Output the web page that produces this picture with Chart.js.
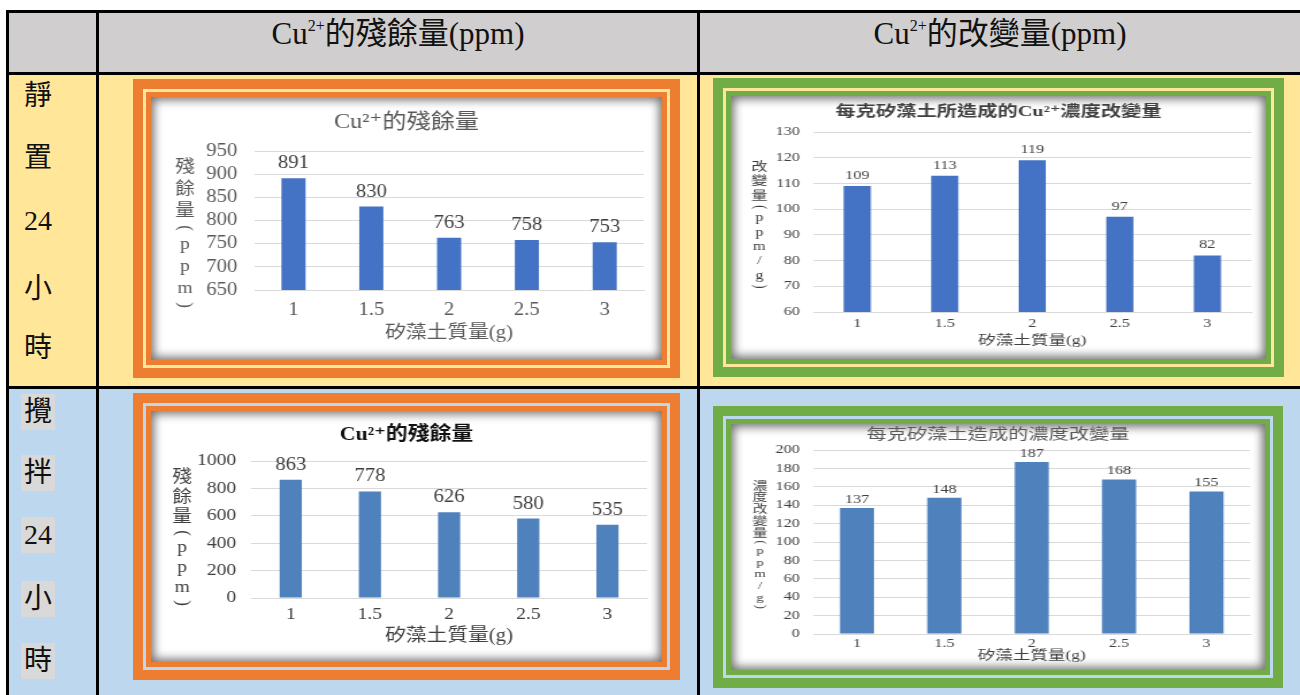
<!DOCTYPE html>
<html lang="zh-Hant">
<head>
<meta charset="utf-8">
<title>矽藻土對 Cu2+ 的吸附</title>
<script src="https://cdn.jsdelivr.net/npm/chart.js@4.4.1/dist/chart.umd.min.js"></script>
<style>
  body { margin: 0; width: 1300px; height: 695px; position: relative; overflow: hidden; background: #fff;
         font-family: 'Liberation Serif', 'Noto Sans CJK TC', serif; color: #111; }
  .abs { position: absolute; }
  .line { position: absolute; background: #000; }
  .head { position: absolute; top: 14px; height: 40px; line-height: 40px; font-size: 31px; text-align: center; }
  .head sup { font-size: 16px; vertical-align: 13px; line-height: 0; }
  .lab { position: absolute; left: 8px; width: 60px; height: 36px; line-height: 36px; font-size: 28px; text-align: center; }
  .lab span { display: inline-block; padding: 0 3px; }
  .hl span { background: #d9d9d9; }
  .frame { position: absolute; }
  .frame .light { position: absolute; left: 10px; top: 10px; right: 10px; bottom: 10px; }
  .frame .thin { position: absolute; left: 13px; top: 13px; right: 13px; bottom: 13px; }
  .frame .panel { position: absolute; left: 18px; top: 18px; right: 18px; bottom: 18px; background: #fff;
                  box-shadow: inset 0 0 10px 3px rgba(0,0,0,0.55); }
  .panel canvas { position: absolute; left: 0; top: 0; }
</style>
</head>
<body>
  <!-- cell backgrounds -->
  <div class="abs" style="left:7px;top:11px;width:1293px;height:62px;background:#d0cece"></div>
  <div class="abs" style="left:7px;top:73px;width:1293px;height:315px;background:#ffe699"></div>
  <div class="abs" style="left:7px;top:388px;width:1293px;height:307px;background:#bdd7ee"></div>

  <!-- table rules -->
  <div class="line" style="left:6px;top:10px;width:1294px;height:3px"></div>
  <div class="line" style="left:6px;top:72px;width:1294px;height:3px"></div>
  <div class="line" style="left:6px;top:386px;width:1294px;height:3px"></div>
  <div class="line" style="left:6px;top:10px;width:3px;height:685px"></div>
  <div class="line" style="left:96px;top:10px;width:3px;height:685px"></div>
  <div class="line" style="left:697px;top:10px;width:3px;height:685px"></div>

  <div class="head" style="left:99px;width:598px">Cu<sup>2+</sup>的殘餘量(ppm)</div>
  <div class="head" style="left:700px;width:600px">Cu<sup>2+</sup>的改變量(ppm)</div>

  <div class="lab" style="top:78px"><span>靜</span></div>
  <div class="lab" style="top:140px"><span>置</span></div>
  <div class="lab" style="top:203px"><span>24</span></div>
  <div class="lab" style="top:271px"><span>小</span></div>
  <div class="lab" style="top:330px"><span>時</span></div>

  <div class="lab hl" style="top:394px"><span>攪</span></div>
  <div class="lab hl" style="top:455px"><span>拌</span></div>
  <div class="lab hl" style="top:517px"><span>24</span></div>
  <div class="lab hl" style="top:581px"><span>小</span></div>
  <div class="lab hl" style="top:643px"><span>時</span></div>

  <div class="frame" style="left:133px;top:79px;width:547px;height:299px;background:#ed7d31">
    <div class="light" style="background:#ffe699"></div><div class="thin" style="background:#ed7d31"></div>
    <div class="panel"><canvas id="c1" width="444" height="263" style="width:511px;height:263px"></canvas></div>
  </div>
  <div class="frame" style="left:713px;top:78px;width:571px;height:299px;background:#70ad47">
    <div class="light" style="background:#ffe699"></div><div class="thin" style="background:#70ad47"></div>
    <div class="panel"><canvas id="c2" width="396" height="263" style="width:535px;height:263px"></canvas></div>
  </div>
  <div class="frame" style="left:133px;top:393px;width:547px;height:287px;background:#ed7d31">
    <div class="light" style="background:#bdd7ee"></div><div class="thin" style="background:#ed7d31"></div>
    <div class="panel"><canvas id="c3" width="444" height="251" style="width:511px;height:251px"></canvas></div>
  </div>
  <div class="frame" style="left:713px;top:406px;width:570px;height:282px;background:#70ad47">
    <div class="light" style="background:#bdd7ee"></div><div class="thin" style="background:#70ad47"></div>
    <div class="panel"><canvas id="c4" width="396" height="246" style="width:534px;height:246px"></canvas></div>
  </div>

<script>
// 矽藻土質量 (g)
const grams = ['1', '1.5', '2', '2.5', '3'];

// 靜置 24 小時
const residualStill = [891, 830, 763, 758, 753];   // Cu2+ 殘餘量 (ppm)
const changeStill = [109, 113, 119, 97, 82];        // 每克改變量 (ppm/g)

// 攪拌 24 小時
const residualStir = [863, 778, 626, 580, 535];
const changeStir = [137, 148, 187, 168, 155];

const FONT = "'Liberation Serif', 'Noto Sans CJK TC', 'DejaVu Serif', serif";

// 數值標籤 (柱子上方)
const barValues = {
  id: 'barValues',
  afterDatasetsDraw(chart, args, o) {
    const ctx = chart.ctx;
    const values = chart.data.datasets[0].data;
    ctx.save();
    ctx.font = `${o.size}px ${FONT}`;
    ctx.fillStyle = o.color;
    ctx.textAlign = 'center';
    ctx.textBaseline = 'alphabetic';
    chart.getDatasetMeta(0).data.forEach((bar, i) => {
      ctx.fillText(String(values[i]), bar.x, bar.y - o.gap);
    });
    ctx.restore();
  }
};

// 直排的 y 軸標題, 括號轉 90 度
const sideTitle = {
  id: 'sideTitle',
  afterDraw(chart, args, o) {
    const ctx = chart.ctx;
    ctx.save();
    ctx.font = `${o.size}px ${FONT}`;
    ctx.fillStyle = o.color;
    ctx.textAlign = 'center';
    ctx.textBaseline = 'middle';
    let y = o.top;
    for (const ch of o.text) {
      const paren = ch === '(' || ch === ')';
      const h = paren ? o.step / 2 : o.step;
      const cy = y + h / 2;
      if (paren) {
        ctx.save();
        ctx.translate(o.x, cy);
        ctx.rotate(Math.PI / 2);
        ctx.fillText(ch, 0, 0);
        ctx.restore();
      } else {
        ctx.fillText(ch, o.x, cy);
      }
      y += h;
    }
    ctx.restore();
  }
};

Chart.register(barValues, sideTitle);

function barChart(id, values, s) {
  return new Chart(document.getElementById(id), {
    type: 'bar',
    data: {
      labels: grams,
      datasets: [{
        data: values,
        backgroundColor: s.bar,
        categoryPercentage: 1,
        barPercentage: s.barPct
      }]
    },
    options: {
      responsive: false,
      animation: false,
      devicePixelRatio: 1,
      layout: { padding: { left: s.pad, right: s.pad, top: 0, bottom: 0 } },
      plugins: {
        legend: { display: false },
        tooltip: { enabled: false },
        title: {
          display: true,
          text: s.title,
          color: s.titleColor,
          font: { family: FONT, size: s.titleSize, weight: s.titleWeight },
          padding: { top: s.titleTop, bottom: s.titleBottom }
        },
        barValues: { size: s.valueSize, color: '#404040', gap: s.valueGap },
        sideTitle: { text: s.yTitle, x: s.sideX, top: s.sideTop, step: s.sideStep, size: s.sideSize, color: s.textColor }
      },
      scales: {
        x: {
          grid: { display: false, drawTicks: false },
          border: { display: true, color: '#d9d9d9' },
          ticks: { color: s.textColor, font: { family: FONT, size: s.tickSize }, padding: s.xTickPad },
          title: {
            display: true,
            text: '矽藻土質量(g)',
            color: s.textColor,
            font: { family: FONT, size: s.xTitleSize },
            padding: { top: 0, bottom: s.xTitleBottom }
          },
          afterFit(scale) { scale.height = s.xHeight; }
        },
        y: {
          min: s.min,
          max: s.max,
          ticks: {
            stepSize: s.step,
            autoSkip: false,
            callback: v => String(v),
            color: s.textColor,
            font: { family: FONT, size: s.tickSize },
            padding: s.yTickPad
          },
          grid: { color: '#d9d9d9', drawTicks: false },
          border: { display: false },
          afterFit(scale) { scale.width = s.yWidth; }
        }
      }
    }
  });
}

barChart('c1', residualStill, {
  bar: '#4472c4', barPct: 0.31, pad: 16, yWidth: 74, yTickPad: 15,
  title: 'Cu²⁺的殘餘量', titleColor: '#595959', titleSize: 21, titleWeight: 'normal', titleTop: 12.4, titleBottom: 16.4,
  min: 650, max: 950, step: 50, tickSize: 18, textColor: '#595959',
  xTickPad: 9.2, xTitleSize: 18, xTitleBottom: 16.2, xHeight: 70,
  valueSize: 18, valueGap: 10,
  yTitle: '殘餘量(ppm)', sideX: 29.6, sideTop: 59.5, sideStep: 22, sideSize: 17
});

barChart('c2', changeStill, {
  bar: '#4472c4', barPct: 0.31, pad: 11, yWidth: 50, yTickPad: 10,
  title: '每克矽藻土所造成的Cu²⁺濃度改變量', titleColor: '#404040', titleSize: 15, titleWeight: 'bold', titleTop: 7, titleBottom: 11,
  min: 60, max: 130, step: 10, tickSize: 12, textColor: '#404040',
  xTickPad: 4.8, xTitleSize: 13, xTitleBottom: 10.2, xHeight: 47,
  valueSize: 12, valueGap: 7,
  yTitle: '改變量(ppm/g)', sideX: 21, sideTop: 64.5, sideStep: 14.4, sideSize: 12
});

barChart('c3', residualStir, {
  bar: '#4f81bd', barPct: 0.28, pad: 13, yWidth: 74, yTickPad: 13,
  title: 'Cu²⁺的殘餘量', titleColor: '#111111', titleSize: 19, titleWeight: 'bold', titleTop: 12.6, titleBottom: 14.6,
  min: 0, max: 1000, step: 200, tickSize: 17, textColor: '#404040',
  xTickPad: 6.2, xTitleSize: 18, xTitleBottom: 15.2, xHeight: 64,
  valueSize: 18, valueGap: 10,
  yTitle: '殘餘量(ppm)', sideX: 27, sideTop: 57, sideStep: 20, sideSize: 17
});

barChart('c4', changeStir, {
  bar: '#4f81bd', barPct: 0.39, pad: 11, yWidth: 50, yTickPad: 10,
  title: '每克矽藻土造成的濃度改變量', titleColor: '#595959', titleSize: 15, titleWeight: 'normal', titleTop: 2, titleBottom: 6,
  min: 0, max: 200, step: 20, tickSize: 12, textColor: '#404040',
  xTickPad: 2.8, xTitleSize: 13, xTitleBottom: 6.2, xHeight: 36,
  valueSize: 12, valueGap: 5,
  yTitle: '濃度改變量(ppm/g)', sideX: 21.5, sideTop: 57, sideStep: 11.7, sideSize: 11
});
</script>
</body>
</html>
